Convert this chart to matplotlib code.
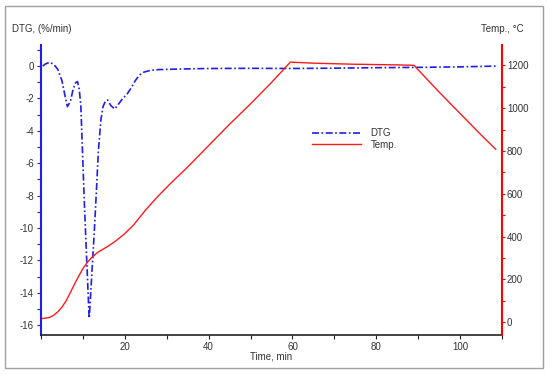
import matplotlib
matplotlib.use("Agg")
import matplotlib.pyplot as plt
from matplotlib.patches import Rectangle
from matplotlib.ticker import MultipleLocator, FixedLocator

plt.rcParams["font.family"] = ["Liberation Sans", "DejaVu Sans"]
plt.rcParams["axes.unicode_minus"] = False

# DTG curve (%/min) vs time (min)
t_dtg = [0.4, 1, 2, 3, 4, 5, 5.7, 6.3, 7, 7.6, 8.2, 8.7, 9.1, 9.5, 10.0, 10.4,
         10.8, 11.2, 11.5, 11.8, 12.2, 12.7, 13.2, 13.7, 14.3, 14.8, 15.4, 15.9,
         16.7, 17.6, 18.5, 19.5, 20.5, 21.5, 22.5, 23.5, 24.5, 26, 28, 32, 40,
         50, 60, 70, 80, 90, 100, 109]
dtg = [0.0, 0.12, 0.23, 0.12, -0.2, -0.9, -1.8, -2.5, -2.2, -1.5, -1.05, -0.95,
       -1.4, -2.4, -6.0, -8.8, -11.3, -13.8, -15.57, -14.3, -12.5, -10.3, -7.8,
       -5.2, -3.3, -2.5, -2.15, -2.1, -2.45, -2.65, -2.35, -2.0, -1.75, -1.35,
       -0.9, -0.55, -0.38, -0.27, -0.22, -0.19, -0.15, -0.14, -0.15, -0.13,
       -0.1, -0.08, -0.05, 0.0]

# Temperature program (°C) vs time (min)
t_temp = [0.4, 2, 3, 4, 5, 6, 7, 8, 9, 10, 11, 12, 13, 14, 15, 16, 17, 18, 19,
          20, 22, 25, 28, 31, 35, 40, 45, 50, 55, 59.5, 65, 75, 85, 89, 95, 100,
          105, 108.5]
temp = [17, 22, 32, 48, 70, 100, 138, 178, 215, 250, 278, 300, 318, 332, 343,
        355, 368, 382, 398, 414, 452, 525, 590, 650, 725, 825, 925, 1020, 1120,
        1215, 1210, 1205, 1202, 1200, 1075, 975, 875, 808]

x_ticks = [20, 40, 60, 80, 100]

blue = "#1f1fe6"
red = "#ff1a1a"
txt = "#333333"
fs = 7

fig = plt.figure(figsize=(5.5, 3.78), dpi=100)
ax = fig.add_axes([41 / 550, 1 - 335 / 378, 461 / 550, 290 / 378])
ax2 = ax.twinx()

l1, = ax.plot(t_dtg, dtg, color=blue, lw=1.2, dashes=(4.2, 1.5, 1, 1.5), label="DTG")
l2, = ax2.plot(t_temp, temp, color=red, lw=1.0, label="Temp.")

ax.set_xlim(0, 110)
ax.set_ylim(-16.6, 1.3)
ax2.set_ylim(-60, 1295)

ax.xaxis.set_major_locator(FixedLocator(x_ticks))
ax.xaxis.set_minor_locator(MultipleLocator(10))
ax.yaxis.set_major_locator(MultipleLocator(2))
ax.yaxis.set_minor_locator(MultipleLocator(1))
ax2.yaxis.set_major_locator(MultipleLocator(200))
ax2.yaxis.set_minor_locator(MultipleLocator(100))

for s in ["top", "right"]:
    ax.spines[s].set_visible(False)
for s in ["top", "left", "bottom"]:
    ax2.spines[s].set_visible(False)
ax.spines["left"].set_color(blue)
ax.spines["left"].set_linewidth(1.5)
ax.spines["bottom"].set_color("#222222")
ax.spines["bottom"].set_linewidth(1.2)
ax2.spines["right"].set_color("#ff0000")
ax2.spines["right"].set_linewidth(1.5)

ax.tick_params(axis="x", which="both", direction="out", length=3, width=0.8,
               color="#222222", labelcolor=txt, labelsize=fs, pad=2)
ax.tick_params(axis="y", which="both", direction="out", length=3, width=0.8,
               color=blue, labelcolor=txt, labelsize=fs, pad=2)
ax2.tick_params(axis="y", which="both", direction="out", length=2, width=0.8,
                color="#ff0000", labelcolor=txt, labelsize=fs, pad=1.5)

ax.set_xlabel("Time, min", fontsize=fs, color=txt, labelpad=0)
fig.text(12 / 550, 1 - 29 / 378, "DTG, (%/min)", fontsize=fs, color=txt,
         ha="left", va="center")
fig.text(481 / 550, 1 - 29 / 378, "Temp., °C", fontsize=fs, color=txt,
         ha="left", va="center")

ax.legend(handles=[l1, l2], loc="center", bbox_to_anchor=(0.68, 0.676),
          frameon=False, fontsize=fs, handlelength=5.0, handletextpad=1.0,
          labelspacing=0.15, labelcolor=txt)

fig.patches.append(Rectangle((5 / 550, 1 - 368 / 378), 538 / 550, 362 / 378,
                             transform=fig.transFigure, fill=False,
                             ec="#a0a0a0", lw=1))

fig.savefig("out.png", dpi=100)
